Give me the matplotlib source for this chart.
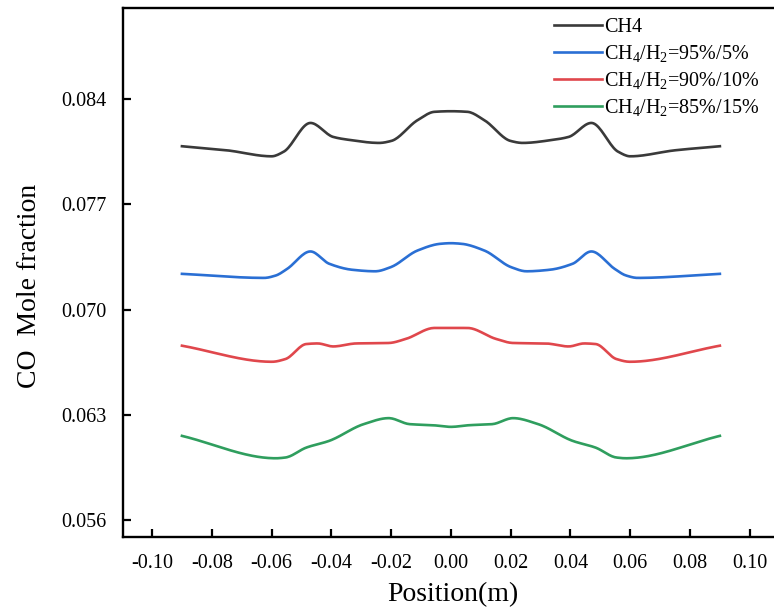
import numpy as np
import matplotlib
matplotlib.use("Agg")
import matplotlib.pyplot as plt

plt.rcParams['font.family'] = ['Liberation Serif', 'DejaVu Serif']
plt.rcParams['mathtext.fontset'] = 'custom'
plt.rcParams['mathtext.rm'] = 'Liberation Serif'
plt.rcParams['mathtext.it'] = 'Liberation Serif:italic'

# Half profiles (x <= 0); profiles are mirrored about x = 0
x_half = [-0.090, -0.075, -0.060, -0.056, -0.047, -0.0394, -0.0343, -0.024,
          -0.020, -0.0112, -0.0055, 0.0]
ch4_half = [0.08087, 0.0806, 0.0802, 0.0805, 0.08242, 0.08149, 0.0813, 0.08109,
            0.08122, 0.0826, 0.08316, 0.0832]

x_blue = [-0.090, -0.0625, -0.0586, -0.0548, -0.047, -0.0407, -0.033, -0.0253,
          -0.0202, -0.0112, -0.0035, 0.0]
h5_half = [0.07238, 0.07211, 0.07227, 0.07271, 0.07387, 0.07305, 0.07265, 0.07255,
           0.07282, 0.07393, 0.07438, 0.07442]

x_red = [-0.090, -0.0599, -0.0554, -0.0484, -0.0446, -0.0394, -0.0317, -0.0208,
         -0.0151, -0.0055, 0.0]
h10_half = [0.0676, 0.06653, 0.06671, 0.06771, 0.06775, 0.06755, 0.06775, 0.06778,
            0.06805, 0.06878, 0.06878]

x_green = [-0.090, -0.0586, -0.0554, -0.0484, -0.0407, -0.0292, -0.0208, -0.0138,
           -0.0061, 0.0]
h15_half = [0.0616, 0.06011, 0.06016, 0.06082, 0.06127, 0.06238, 0.06278, 0.06238,
            0.06231, 0.0622]

labels = ['CH4', r'CH$_4$/H$_2$=95%/5%', r'CH$_4$/H$_2$=90%/10%', r'CH$_4$/H$_2$=85%/15%']
colors = ['#3a3a3a', '#2a6fd4', '#e0474c', '#2f9e5e']

xticks = [-0.10, -0.08, -0.06, -0.04, -0.02, 0.00, 0.02, 0.04, 0.06, 0.08, 0.10]
yticks = [0.056, 0.063, 0.070, 0.077, 0.084]


def mirror(xh, yh):
    xh = np.asarray(xh)
    yh = np.asarray(yh)
    x = np.concatenate([xh, -xh[-2::-1]])
    y = np.concatenate([yh, yh[-2::-1]])
    return x, y


def smooth(x, y, n=400):
    # monotone cubic (PCHIP) interpolation for a smooth line
    x = np.asarray(x, float)
    y = np.asarray(y, float)
    h = np.diff(x)
    d = np.diff(y) / h
    m = np.zeros_like(y)
    for k in range(1, len(x) - 1):
        if d[k - 1] * d[k] > 0:
            w1 = 2 * h[k] + h[k - 1]
            w2 = h[k] + 2 * h[k - 1]
            m[k] = (w1 + w2) / (w1 / d[k - 1] + w2 / d[k])
    m[0] = d[0]
    m[-1] = d[-1]
    xs = np.linspace(x[0], x[-1], n)
    idx = np.clip(np.searchsorted(x, xs) - 1, 0, len(x) - 2)
    t = (xs - x[idx]) / h[idx]
    h00 = 2 * t**3 - 3 * t**2 + 1
    h10 = t**3 - 2 * t**2 + t
    h01 = -2 * t**3 + 3 * t**2
    h11 = t**3 - t**2
    ys = h00 * y[idx] + h10 * h[idx] * m[idx] + h01 * y[idx + 1] + h11 * h[idx] * m[idx + 1]
    return xs, ys


fig = plt.figure(figsize=(7.74, 6.12), dpi=100)
ax = fig.add_axes([0.159, 0.1225, 0.851, 0.8645])

series = [(x_half, ch4_half), (x_blue, h5_half), (x_red, h10_half), (x_green, h15_half)]
for (xh, yh), lab, col in zip(series, labels, colors):
    xm, ym = mirror(xh, yh)
    xs, ys = smooth(xm, ym)
    ax.plot(xs, ys, color=col, lw=1.9, label=lab)

ax.set_xlim(-0.1097, 0.1107)
ax.set_ylim(0.05487, 0.09007)
ax.set_xticks(xticks)
ax.set_xticklabels([f"{v:.2f}" for v in xticks])
ax.set_yticks(yticks)
ax.set_yticklabels([f"{v:.3f}" for v in yticks])
ax.tick_params(direction='in', length=6, width=1.6, labelsize=14.5)
ax.tick_params(axis='x', pad=12)
ax.tick_params(axis='y', pad=12)
for s in ax.spines.values():
    s.set_linewidth(1.7)

ax.set_xlabel('Position(m)', fontsize=20, labelpad=7)
ax.set_ylabel('CO  Mole fraction', fontsize=20, labelpad=14)
ax.yaxis.label.set_y(0.474)

ax.legend(loc='upper right', bbox_to_anchor=(0.985, 1.004), frameon=False,
          fontsize=14.5, handlelength=2.4, handletextpad=0.1, labelspacing=0.3,
          borderaxespad=0.2)

fig.savefig('out.png', dpi=100)
